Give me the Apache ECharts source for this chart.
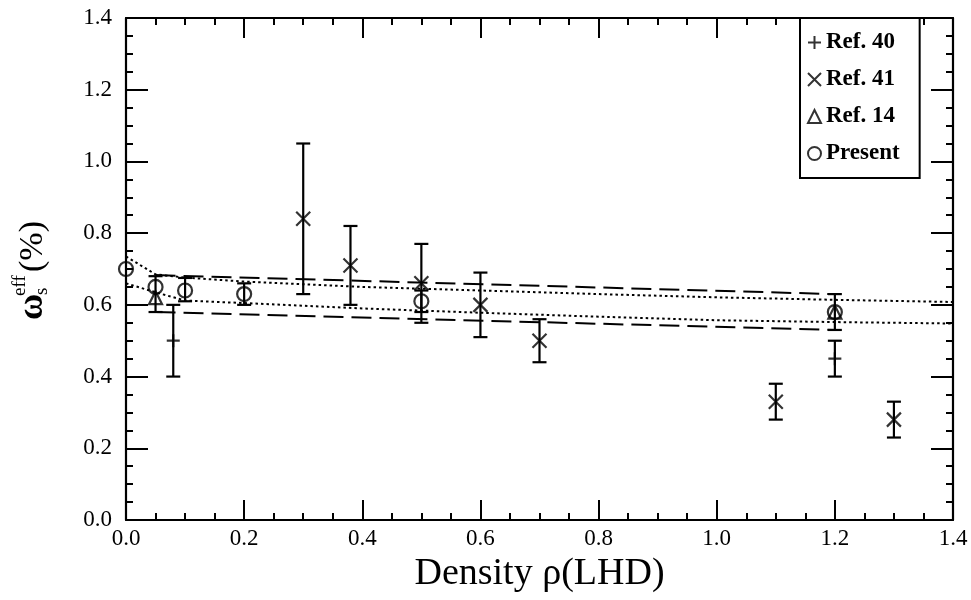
<!DOCTYPE html>
<html>
<head>
<meta charset="utf-8">
<script src="https://cdn.jsdelivr.net/npm/echarts@6/dist/echarts.min.js"></script>
<style>
  html, body { margin: 0; padding: 0; background: #fff; }
  #chart { width: 971px; height: 600px; }
</style>
</head>
<body>
<div id="chart"></div>
<script>
// axis ticks
const xTicks = [0, 0.2, 0.4, 0.6, 0.8, 1.0, 1.2, 1.4];
const yTicks = [0, 0.2, 0.4, 0.6, 0.8, 1.0, 1.2, 1.4];

// Ref. 40 (+)
const ref40X = [0.08, 1.2];
const ref40Y = [0.50, 0.45];
const ref40Lo = [0.40, 0.40];
const ref40Hi = [0.60, 0.50];

// Ref. 41 (x)
const ref41X = [0.3, 0.38, 0.5, 0.6, 0.7, 1.1, 1.3];
const ref41Y = [0.84, 0.71, 0.66, 0.60, 0.50, 0.33, 0.28];
const ref41Lo = [0.63, 0.60, 0.55, 0.51, 0.44, 0.28, 0.23];
const ref41Hi = [1.05, 0.82, 0.77, 0.69, 0.56, 0.38, 0.33];

// Ref. 14 (triangle)
const ref14X = [0.05, 1.2];
const ref14Y = [0.62, 0.58];

// Present (circle)
const presX = [0.0, 0.05, 0.1, 0.2, 0.5, 1.2];
const presY = [0.70, 0.65, 0.64, 0.63, 0.61, 0.58];
const presLo = [null, 0.58, 0.61, 0.60, 0.58, 0.53];
const presHi = [null, 0.68, 0.675, 0.66, 0.64, 0.63];

// band lines
const dashX = [0.05, 1.2];
const dashUpY = [0.683, 0.63];
const dashLoY = [0.58, 0.53];
const dotX = [0, 0.05, 0.1, 0.2, 0.4, 0.6, 0.8, 1.0, 1.2, 1.4];
const dotUpY = [0.735, 0.685, 0.676, 0.665, 0.65, 0.64, 0.63, 0.621, 0.614, 0.608];
const dotLoY = [0.66, 0.635, 0.612, 0.605, 0.59, 0.578, 0.567, 0.557, 0.552, 0.548];

const FONT = "'Liberation Serif', 'Times New Roman', serif";
const symPlus = 'path://M5,0L5,10M0,5L10,5';
const symCross = 'path://M0,0L10,10M10,0L0,10';

function pairs(xs, ys) {
  return xs.map((x, i) => [x, ys[i]]);
}
function bars(xs, lo, hi) {
  const out = [];
  xs.forEach((x, i) => {
    if (lo[i] != null) out.push([x, lo[i], hi[i]]);
  });
  return out;
}

function renderErr(params, api) {
  const x = api.value(0);
  const p1 = api.coord([x, api.value(1)]);
  const p2 = api.coord([x, api.value(2)]);
  const w = 7;
  const style = { stroke: '#000', lineWidth: 2.2 };
  return {
    type: 'group',
    children: [
      { type: 'line', shape: { x1: p1[0], y1: p1[1], x2: p2[0], y2: p2[1] }, style: style },
      { type: 'line', shape: { x1: p1[0] - w, y1: p1[1], x2: p1[0] + w, y2: p1[1] }, style: style },
      { type: 'line', shape: { x1: p2[0] - w, y1: p2[1], x2: p2[0] + w, y2: p2[1] }, style: style }
    ]
  };
}

function errSeries(data) {
  return {
    type: 'custom',
    renderItem: renderErr,
    encode: { x: 0, y: [1, 2] },
    data: data,
    silent: true,
    z: 3
  };
}

function lineSeries(xs, ys, dash, width) {
  return {
    type: 'line',
    data: pairs(xs, ys),
    showSymbol: false,
    symbol: 'none',
    lineStyle: { color: '#000', width: width, type: dash },
    silent: true,
    z: 2
  };
}

function markStyle() {
  return { color: 'transparent', borderColor: '#000', borderWidth: 2.2 };
}

function baseX(pos, show) {
  return {
    type: 'value',
    position: pos,
    min: 0,
    max: 1.4,
    interval: 0.2,
    axisLine: { show: true, onZero: false, lineStyle: { color: '#000', width: 2.2 } },
    axisTick: { show: true, inside: true, length: 20, lineStyle: { color: '#000', width: 2 } },
    minorTick: { show: true, splitNumber: 4, length: 7, lineStyle: { color: '#000', width: 2 } },
    axisLabel: {
      show: show,
      color: '#000',
      fontFamily: FONT,
      fontSize: 23,
      margin: 7,
      formatter: v => v.toFixed(1)
    },
    splitLine: { show: false }
  };
}

function baseY(pos, show) {
  return {
    type: 'value',
    position: pos,
    min: 0,
    max: 1.4,
    interval: 0.2,
    axisLine: { show: true, onZero: false, lineStyle: { color: '#000', width: 2.2 } },
    axisTick: { show: true, inside: true, length: 22, lineStyle: { color: '#000', width: 2 } },
    minorTick: { show: true, splitNumber: 4, length: 7, lineStyle: { color: '#000', width: 2 } },
    axisLabel: {
      show: show,
      color: '#000',
      fontFamily: FONT,
      fontSize: 23,
      margin: 14,
      formatter: v => v.toFixed(1)
    },
    splitLine: { show: false }
  };
}

const chart = echarts.init(document.getElementById('chart'), null, { renderer: 'canvas' });

const xBottom = baseX('bottom', true);
xBottom.name = 'Density ρ(LHD)';
xBottom.nameLocation = 'middle';
xBottom.nameGap = 32;
xBottom.nameTextStyle = { color: '#000', fontFamily: FONT, fontSize: 38 };

chart.setOption({
  animation: false,
  backgroundColor: '#fff',
  grid: { left: 126, right: 18, top: 18, bottom: 80, outerBoundsMode: 'none' },
  xAxis: [xBottom, baseX('top', false)],
  yAxis: [baseY('left', true), baseY('right', false)],
  legend: {
    orient: 'vertical',
    left: 800,
    top: 18,
    padding: [13, 20, 13, 7],
    itemGap: 14,
    itemWidth: 13,
    itemHeight: 13,
    itemTextGap: 11,
    backgroundColor: '#fff',
    borderColor: '#000',
    borderWidth: 2,
    borderRadius: 0,
    textStyle: { color: '#000', fontFamily: FONT, fontSize: 23, fontWeight: 'bold' },
    data: ['Ref. 40', 'Ref. 41', 'Ref. 14', 'Present']
  },
  graphic: [
    {
      type: 'group',
      x: 33,
      y: 320,
      rotation: Math.PI / 2,
      children: [
        { type: 'text', x: 0, y: 0, style: { text: 'ω', fontFamily: FONT, fontSize: 36, fontWeight: 'bold', fill: '#000', align: 'left', verticalAlign: 'middle' } },
        { type: 'text', x: 25, y: 9, style: { text: 's', fontFamily: FONT, fontSize: 19, fill: '#000', align: 'left', verticalAlign: 'middle' } },
        { type: 'text', x: 24, y: -13, style: { text: 'eff', fontFamily: FONT, fontSize: 19, fill: '#000', align: 'left', verticalAlign: 'middle' } },
        { type: 'text', x: 48, y: 0, style: { text: '(%)', fontFamily: FONT, fontSize: 34, fill: '#000', align: 'left', verticalAlign: 'middle' } }
      ]
    }
  ],
  series: [
    lineSeries(dashX, dashUpY, [20, 8], 2),
    lineSeries(dashX, dashLoY, [20, 8], 2),
    lineSeries(dotX, dotUpY, [2.5, 3], 2),
    lineSeries(dotX, dotLoY, [2.5, 3], 2),
    errSeries(bars(ref40X, ref40Lo, ref40Hi)),
    errSeries(bars(ref41X, ref41Lo, ref41Hi)),
    errSeries(bars(presX, presLo, presHi)),
    {
      name: 'Ref. 40',
      type: 'scatter',
      data: pairs(ref40X, ref40Y),
      symbol: symPlus,
      symbolSize: 13,
      itemStyle: markStyle(),
      z: 4
    },
    {
      name: 'Ref. 41',
      type: 'scatter',
      data: pairs(ref41X, ref41Y),
      symbol: symCross,
      symbolSize: 14,
      itemStyle: markStyle(),
      z: 4
    },
    {
      name: 'Ref. 14',
      type: 'scatter',
      data: pairs(ref14X, ref14Y),
      symbol: 'triangle',
      symbolSize: 13,
      itemStyle: markStyle(),
      z: 4
    },
    {
      name: 'Present',
      type: 'scatter',
      data: pairs(presX, presY),
      symbol: 'circle',
      symbolSize: 14,
      itemStyle: markStyle(),
      z: 4
    }
  ]
});
</script>
</body>
</html>
